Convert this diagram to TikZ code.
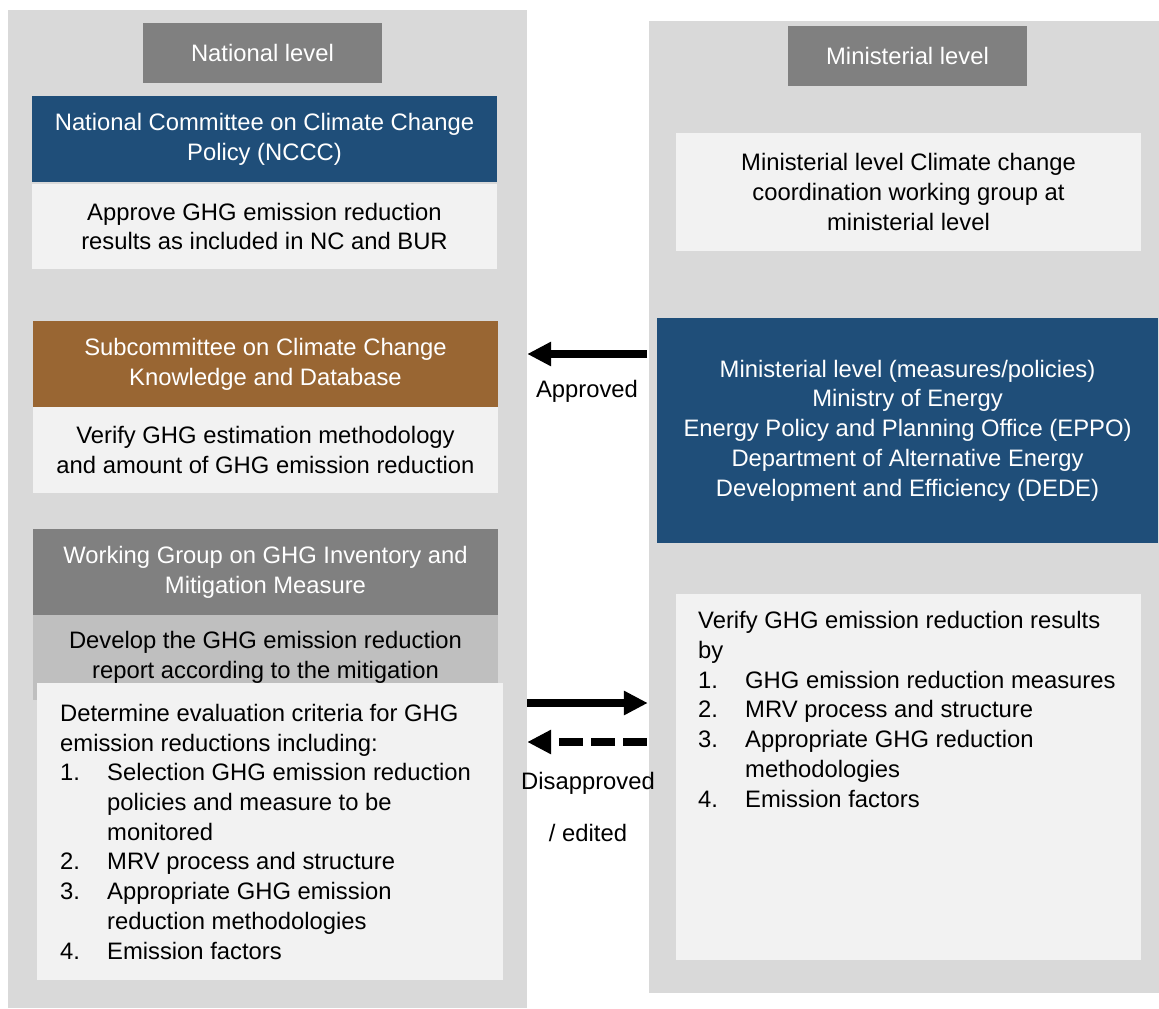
\documentclass[tikz,border=0pt]{standalone}
\usepackage{fontspec}
\setmainfont{Liberation Sans}
\usetikzlibrary{arrows.meta}
\definecolor{panelgray}{HTML}{D9D9D9}
\definecolor{headgray}{HTML}{808080}
\definecolor{darkblue}{HTML}{1F4E79}
\definecolor{brown}{HTML}{996633}
\definecolor{lightbox}{HTML}{F2F2F2}
\definecolor{midgray}{HTML}{BFBFBF}
\newcommand{\txtfont}{\fontsize{23.8}{29.7}\selectfont}
\newcommand{\itm}[1]{\makebox[47pt][l]{#1}}
\tikzset{
  panel/.style={fill=panelgray, draw=none, inner sep=0pt},
  box/.style={draw=none, inner sep=0pt, align=center, font=\txtfont},
  header/.style={box, fill=headgray, text=white},
  bluebox/.style={box, fill=darkblue, text=white},
  brownbox/.style={box, fill=brown, text=white},
  lightbx/.style={box, fill=lightbox, text=black},
  midbox/.style={box, fill=midgray, text=black},
  listtext/.style={inner sep=0pt, align=left, font=\txtfont, anchor=base west},
  lbl/.style={inner sep=0pt, font=\txtfont},
  bigarrow/.style={line width=8pt, -{Triangle[length=24pt,width=23pt]}},
  dasharrow/.style={bigarrow, dash pattern=on 24pt off 8pt}
}
\begin{document}
\begin{tikzpicture}[x=1pt,y=-1pt]
\useasboundingbox (0,0) rectangle (1159,1009);
% panels
\node[panel, minimum width=519pt, minimum height=998pt] (lpanel) at (267.5,509) {};
\node[panel, minimum width=510pt, minimum height=972pt] (rpanel) at (904,507) {};
% left column
\node[header, minimum width=239pt, minimum height=60pt] (natlevel) at (262.5,53) {National level};
\node[bluebox, minimum width=465pt, minimum height=86pt] (nccc) at (264.5,139) {National Committee on Climate Change\\Policy (NCCC)};
\node[lightbx, minimum width=465pt, minimum height=85pt] (approve) at (264.5,226.5) {Approve GHG emission reduction\\results as included in NC and BUR};
\node[brownbox, minimum width=465pt, minimum height=86pt] (subc) at (265.5,364) {Subcommittee on Climate Change\\Knowledge and Database};
\node[lightbx, minimum width=465pt, minimum height=86pt] (verify) at (265.5,450) {Verify GHG estimation methodology\\and amount of GHG emission reduction};
\node[header, minimum width=465pt, minimum height=86pt] (wg) at (265.5,572) {Working Group on GHG Inventory and\\Mitigation Measure};
\node[midbox, minimum width=465pt, minimum height=85pt] (develop) at (265.5,657.5) {Develop the GHG emission reduction\\report according to the mitigation};
\node[lightbx, minimum width=466pt, minimum height=297pt] (determine) at (270,831.5) {};
\node[listtext] (determinetext) at (60,959) {Determine evaluation criteria for GHG\\emission reductions including:\\\itm{1.}Selection GHG emission reduction\\\hspace*{47pt}policies and measure to be\\\hspace*{47pt}monitored\\\itm{2.}MRV process and structure\\\itm{3.}Appropriate GHG emission\\\hspace*{47pt}reduction methodologies\\\itm{4.}Emission factors};
% right column
\node[header, minimum width=239pt, minimum height=60pt] (minlevel) at (907.5,56) {Ministerial level};
\node[lightbx, minimum width=465pt, minimum height=118pt] (mwg) at (908.5,192) {Ministerial level Climate change\\coordination working group at\\ministerial level};
\node[bluebox, minimum width=501pt, minimum height=225pt] (minblue) at (907.5,430.5) {Ministerial level (measures/policies)\\Ministry of Energy\\Energy Policy and Planning Office (EPPO)\\Department of Alternative Energy\\Development and Efficiency (DEDE)};
\node[lightbx, minimum width=465pt, minimum height=366pt] (rverify) at (908.5,777) {};
\node[listtext] (rverifytext) at (698,807) {Verify GHG emission reduction results\\by\\\itm{1.}GHG emission reduction measures\\\itm{2.}MRV process and structure\\\itm{3.}Appropriate GHG reduction\\\hspace*{47pt}methodologies\\\itm{4.}Emission factors};
% arrows
\draw[bigarrow, shorten <=10pt] (minblue.west |- 0,354) -- (lpanel.east |- 0,354);
\node[lbl] (approved) at (587,391) {Approved};
\draw[bigarrow, shorten >=1pt] (lpanel.east |- 0,703) -- (rpanel.west |- 0,703);
\draw[dasharrow, shorten <=2pt] (rpanel.west |- 0,742) -- (lpanel.east |- 0,742);
\node[lbl] (disapproved) at (588,783) {Disapproved};
\node[lbl] (edited) at (588,833) {/ edited};
\end{tikzpicture}
\end{document}
